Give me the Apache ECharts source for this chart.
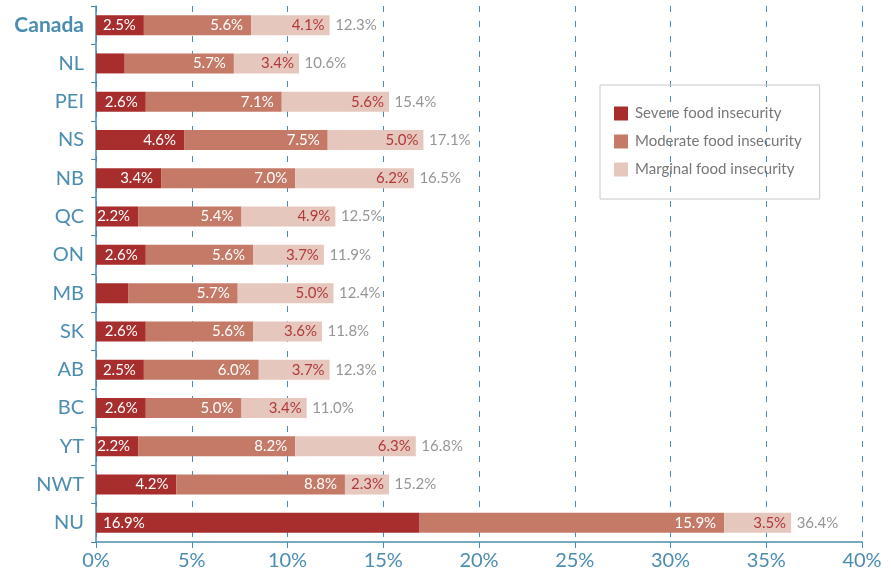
<!DOCTYPE html>
<html>
<head>
<meta charset="utf-8">
<script src="https://cdn.jsdelivr.net/npm/echarts@6/dist/echarts.min.js"></script>
<style>html,body{margin:0;padding:0;background:#fff}#c{width:891px;height:577px}</style>
</head>
<body>
<div id="c"></div>
<script>
var categories = ['Canada','NL','PEI','NS','NB','QC','ON','MB','SK','AB','BC','YT','NWT','NU'];
var severe   = [2.5, 1.5, 2.6, 4.6, 3.4, 2.2, 2.6, 1.7, 2.6, 2.5, 2.6, 2.2, 4.2, 16.9];
var moderate = [5.6, 5.7, 7.1, 7.5, 7.0, 5.4, 5.6, 5.7, 5.6, 6.0, 5.0, 8.2, 8.8, 15.9];
var marginal = [4.1, 3.4, 5.6, 5.0, 6.2, 4.9, 3.7, 5.0, 3.6, 3.7, 3.4, 6.3, 2.3, 3.5];
var totals   = [12.3, 10.6, 15.4, 17.1, 16.5, 12.5, 11.9, 12.4, 11.8, 12.3, 11.0, 16.8, 15.2, 36.4];
var xTicks = [0, 5, 10, 15, 20, 25, 30, 35, 40];

var FONT = 'Lato';
var BLUE = '#4b8db0';
var pct = function (v) { return v.toFixed(1) + '%'; };

var severeData = severe.map(function (v) {
  var item = { value: v };
  if (v < 2) item.label = { show: false };
  else if (v > 10) item.label = { position: 'insideLeft', distance: 7 };
  return item;
});

// total label sits at the end of each stacked bar
var totalData = totals.map(function (t, i) {
  return [severe[i] + moderate[i] + marginal[i], categories[i], t];
});

var chart = echarts.init(document.getElementById('c'), null, { renderer: 'canvas' });
chart.setOption({
  animation: false,
  textStyle: { fontFamily: FONT },
  grid: { left: 96, right: 29, top: 6, bottom: 35, containLabel: false },
  legend: {
    orient: 'vertical',
    left: 600, top: 85,
    padding: [21, 18, 22, 14],
    itemGap: 13,
    itemWidth: 14, itemHeight: 14,
    icon: 'rect',
    borderColor: '#c8c8c8', borderWidth: 1,
    textStyle: { color: '#777', fontSize: 15, fontFamily: FONT, padding: [0, 0, 0, 2] },
    data: ['Severe food insecurity', 'Moderate food insecurity', 'Marginal food insecurity']
  },
  xAxis: {
    type: 'value', min: 0, max: 40, interval: 5,
    axisLine: { show: true, lineStyle: { color: BLUE, width: 1.5 } },
    axisTick: { show: true, length: 6, lineStyle: { color: BLUE } },
    axisLabel: { color: BLUE, fontSize: 20, margin: 9, fontFamily: FONT,
      formatter: function (v) { return xTicks.indexOf(v) >= 0 ? v + '%' : ''; } },
    splitLine: { show: true, lineStyle: { color: BLUE, type: [6, 9], width: 1 } }
  },
  yAxis: {
    type: 'category', data: categories, inverse: true,
    axisLine: { show: true, lineStyle: { color: BLUE, width: 1.5 } },
    axisTick: { show: true, length: 5, lineStyle: { color: BLUE } },
    axisLabel: {
      color: BLUE, fontSize: 20, margin: 12, fontFamily: FONT,
      formatter: function (v) { return v === 'Canada' ? '{b|' + v + '}' : v; },
      rich: { b: { fontWeight: 'bold', color: BLUE, fontSize: 21, fontFamily: FONT } }
    },
    splitLine: { show: false }
  },
  series: [
    {
      name: 'Severe food insecurity', type: 'bar', stack: 't', barWidth: 20,
      itemStyle: { color: '#a82d2d' },
      label: { show: true, position: 'insideRight', distance: 8, color: '#fff', fontSize: 15, fontFamily: FONT,
        formatter: function (p) { return pct(p.value); } },
      data: severeData
    },
    {
      name: 'Moderate food insecurity', type: 'bar', stack: 't', barWidth: 20,
      itemStyle: { color: '#c47a67' },
      label: { show: true, position: 'insideRight', distance: 8, color: '#fff', fontSize: 15, fontFamily: FONT,
        formatter: function (p) { return pct(p.value); } },
      data: moderate
    },
    {
      name: 'Marginal food insecurity', type: 'bar', stack: 't', barWidth: 20,
      itemStyle: { color: '#e6c7bd' },
      label: { show: true, position: 'insideRight', distance: 5, color: '#b0393a', fontSize: 15, fontFamily: FONT,
        formatter: function (p) { return pct(p.value); } },
      data: marginal
    },
    {
      name: 'Total', type: 'scatter', symbolSize: 1,
      itemStyle: { color: 'rgba(0,0,0,0)' },
      label: { show: true, position: 'right', distance: 5, color: '#7b7b7b', fontSize: 15, fontFamily: FONT,
        formatter: function (p) { return pct(p.value[2]); } },
      data: totalData,
      z: 5
    }
  ]
});
</script>
</body>
</html>
